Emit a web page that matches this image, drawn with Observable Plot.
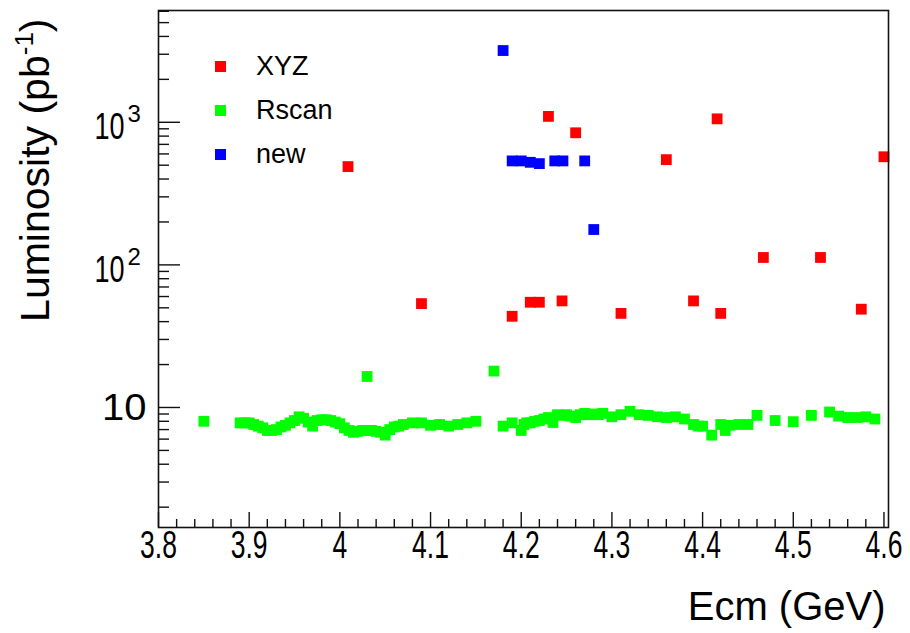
<!DOCTYPE html>
<html><head><meta charset="utf-8">
<script src="https://cdn.jsdelivr.net/npm/d3@7"></script>
<script src="https://cdn.jsdelivr.net/npm/@observablehq/plot@0.6"></script>
<style>
body{margin:0;background:#fff;}
#wrap{position:relative;width:910px;height:633px;font-family:"Liberation Sans",Arial,Helvetica,sans-serif;}
#legend{position:absolute;left:215px;top:44px;}
#legend > div > div{height:44px;padding:0 !important;margin:0 !important;}
#legend svg{margin-right:30px !important;}
</style></head><body><div id="wrap"><div id="legend"></div></div>
<script>
// ---- data ----
const seriesNames = ["XYZ", "Rscan", "new"];
const seriesColors = ["#ff0000", "#00ff00", "#0000ff"];

const xyzE = [4.009, 4.09, 4.19, 4.21, 4.22, 4.23, 4.245, 4.26, 4.31, 4.36, 4.39, 4.416, 4.42, 4.467, 4.53, 4.575, 4.6];
const xyzL = [489, 53.5, 43.6, 54.7, 54.7, 1100, 55.9, 844, 45.7, 547, 55.9, 1057, 45.7, 112.7, 112.7, 48.9, 573];

const rscanE = [3.85, 3.89, 3.895, 3.90, 3.905, 3.91, 3.915, 3.92, 3.925, 3.93, 3.935, 3.94, 3.945, 3.95, 3.955, 3.96, 3.965, 3.97, 3.975, 3.98,
  3.985, 3.99, 3.995, 4.00, 4.005, 4.01, 4.015, 4.02, 4.025, 4.03, 4.035, 4.04, 4.045, 4.05, 4.055, 4.06, 4.065, 4.07, 4.08, 4.09,
  4.10, 4.11, 4.12, 4.13, 4.14, 4.15, 4.18, 4.19, 4.20, 4.203, 4.206, 4.21, 4.215, 4.22, 4.225, 4.23, 4.235, 4.24, 4.245, 4.25,
  4.255, 4.26, 4.265, 4.27, 4.275, 4.28, 4.285, 4.29, 4.30, 4.31, 4.32, 4.33, 4.34, 4.35, 4.36, 4.37, 4.38, 4.39, 4.395, 4.40,
  4.41, 4.42, 4.425, 4.43, 4.44, 4.45, 4.46, 4.48, 4.50, 4.52, 4.54, 4.55, 4.56, 4.57, 4.58, 4.59, 4.03, 4.17];
const rscanL = [8.0, 7.8, 7.8, 7.8, 7.6, 7.4, 7.2, 6.9, 6.9, 7.0, 7.3, 7.5, 7.8, 8.1, 8.6, 8.4, 7.9, 7.4, 8.1, 8.2,
  8.2, 8.1, 7.9, 7.7, 7.2, 6.9, 6.7, 6.8, 6.9, 6.9, 6.9, 6.8, 6.7, 6.4, 7.0, 7.3, 7.4, 7.6, 7.8, 7.8,
  7.5, 7.6, 7.4, 7.6, 7.8, 8.0, 7.4, 7.8, 6.9, 7.6, 7.8, 7.8, 8.0, 8.1, 8.3, 8.5, 7.85, 8.9, 8.8, 8.9,
  8.7, 8.5, 8.9, 9.1, 8.9, 9.0, 8.9, 9.1, 8.6, 8.9, 9.4, 8.9, 8.8, 8.6, 8.5, 8.6, 8.3, 7.6, 7.4, 7.4,
  6.4, 7.6, 6.9, 7.5, 7.6, 7.6, 8.8, 8.1, 7.95, 8.8, 9.3, 8.7, 8.5, 8.5, 8.6, 8.3, 16.5, 18.0];

const newE = [4.18, 4.19, 4.20, 4.21, 4.22, 4.237, 4.246, 4.27, 4.28];
const newL = [3185, 536, 536, 524, 513, 536, 536, 536, 177];

const xMajor = [3.8, 3.9, 4.0, 4.1, 4.2, 4.3, 4.4, 4.5, 4.6];
const xTickLabels = ["3.8", "3.9", "4", "4.1", "4.2", "4.3", "4.4", "4.5", "4.6"];
const yMajor = [10, 100, 1000];
const yPowerTicks = [100, 1000];
const yPowerExp = ["2", "3"];
const yPlainTicks = [10];
const yPlainLabels = ["10"];
const yMinor = [2,3,4,5,6,7,8,9,20,30,40,50,60,70,80,90,200,300,400,500,600,700,800,900,2000,3000,4000,5000,6000];
const xTitle = "Ecm (GeV)";
const yTitle = "Luminosity (pb";
const yTitleSup = "-1";

// ---- table ----
const points = [
  ...rscanE.map((e, i) => ({E: e, L: rscanL[i], s: "Rscan"})),
  ...xyzE.map((e, i) => ({E: e, L: xyzL[i], s: "XYZ"})),
  ...newE.map((e, i) => ({E: e, L: newL[i], s: "new"}))
];

const W = 910, H = 633, mL = 158, mR = 22, mT = 10, mB = 106;
const plotW = W - mL - mR, plotH = H - mT - mB;
const xMinor = d3.range(3.8, 4.6001, 0.02).filter(v => !xMajor.some(m => Math.abs(m - v) < 1e-6));
const FONT = '"Liberation Sans", Arial, Helvetica, sans-serif';

const svg = Plot.plot({
  width: W, height: H,
  marginLeft: mL, marginRight: mR, marginTop: mT, marginBottom: mB,
  style: {fontFamily: FONT, background: "#fff", color: "#000"},
  x: {domain: [3.8, 4.605], axis: null},
  y: {type: "log", domain: [1.44, 6080], axis: null},
  color: {domain: seriesNames, range: seriesColors},
  marks: [
    Plot.dot(points, {x: "E", y: "L", fill: "s", symbol: "square", r: 6.1, stroke: "none"}),
    Plot.ruleX(xMajor, {x: d => d, insetTop: plotH - 15, stroke: "#111", strokeWidth: 1.4}),
    Plot.ruleX(xMinor, {x: d => d, insetTop: plotH - 8, stroke: "#111", strokeWidth: 1.4}),
    Plot.ruleY(yMajor, {y: d => d, insetRight: plotW - 22, stroke: "#111", strokeWidth: 1.4}),
    Plot.ruleY(yMinor, {y: d => d, insetRight: plotW - 11, stroke: "#111", strokeWidth: 1.4}),
    Plot.frame({stroke: "#111", strokeWidth: 1.6}),
    // text marks, in this order: 0 x ticks, 1 y power base, 2 y exponent, 3 y plain, 4 x title, 5 y title
    Plot.text(xMajor, {x: d => d, text: (d, i) => xTickLabels[i], frameAnchor: "bottom", dy: 30, fontSize: 39, fill: "#000"}),
    Plot.text(yPowerTicks, {y: d => d, text: d => "10", frameAnchor: "left", textAnchor: "end", lineAnchor: "bottom", dx: -34, dy: 17, fontSize: 36, fill: "#000"}),
    Plot.text(yPowerTicks, {y: d => d, text: (d, i) => yPowerExp[i], frameAnchor: "left", textAnchor: "start", lineAnchor: "bottom", dx: -31, dy: 0, fontSize: 24, fill: "#000"}),
    Plot.text(yPlainTicks, {y: d => d, text: (d, i) => yPlainLabels[i], frameAnchor: "left", textAnchor: "end", lineAnchor: "bottom", dx: -12, dy: 13, fontSize: 37, fill: "#000"}),
    Plot.text([xTitle], {text: d => d, frameAnchor: "bottom-right", textAnchor: "end", lineAnchor: "bottom", dx: -3, dy: 92, fontSize: 40, fill: "#000"}),
    Plot.text([yTitle], {text: d => d, frameAnchor: "top-left", rotate: -90, textAnchor: "end", lineAnchor: "bottom", dx: -110, dy: 8, fontSize: 41, fill: "#000"})
  ]
});

const textGroups = d3.select(svg).selectAll('g[aria-label="text"]').nodes();

// reproduce the anisotropic glyph widths of the original rendering
function squeeze(g, sx) {
  d3.select(g).selectAll("text").each(function () {
    const t = this.getAttribute("transform") || "";
    this.setAttribute("transform", `${t} scale(${sx},1)`);
  });
}
squeeze(textGroups[0], 0.68);
squeeze(textGroups[1], 0.75);
squeeze(textGroups[3], 1.08);

// superscript on the y title
d3.select(textGroups[5]).selectAll("text").each(function () {
  const t = d3.select(this);
  t.append("tspan").attr("font-size", 26).attr("dy", -16).text(yTitleSup);
  t.append("tspan").attr("dy", 16).text(")");
});

const wrap = document.getElementById("wrap");
wrap.insertBefore(svg, wrap.firstChild);

const legend = Plot.legend({
  color: {type: "ordinal", domain: seriesNames, range: seriesColors},
  legend: "swatches",
  columns: 1,
  swatchSize: 11,
  style: {fontSize: "27px", fontFamily: FONT, color: "#000"}
});
document.getElementById("legend").appendChild(legend);
</script>
</body></html>
